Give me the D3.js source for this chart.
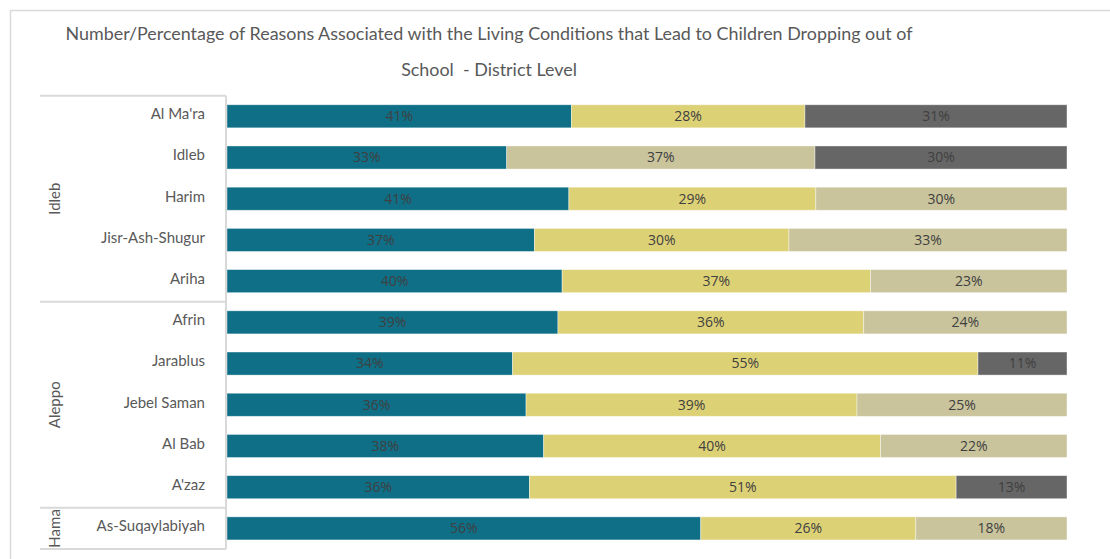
<!DOCTYPE html>
<html>
<head>
<meta charset="utf-8">
<script src="https://cdn.jsdelivr.net/npm/d3@7"></script>
<style>
  html, body { margin: 0; padding: 0; background: #fff; }
  svg { display: block; }
</style>
</head>
<body>
<svg id="chart" width="1110" height="559"></svg>
<script>
// ---- data ----
const districts = ["Al Ma'ra", "Idleb", "Harim", "Jisr-Ash-Shugur", "Ariha", "Afrin", "Jarablus", "Jebel Saman", "Al Bab", "A'zaz", "As-Suqaylabiyah"];
const governorates = ["Idleb", "Aleppo", "Hama"];
const governorateOf = ["Idleb", "Idleb", "Idleb", "Idleb", "Idleb", "Aleppo", "Aleppo", "Aleppo", "Aleppo", "Aleppo", "Hama"];
const seriesKeys = ["reason1", "reason2", "reason3", "reason4"];
const reason1 = [41.0, 33.3, 40.7, 36.6, 39.9, 39.4, 34.0, 35.6, 37.7, 36.0, 56.4];
const reason2 = [27.8, 0, 29.4, 30.3, 36.7, 36.4, 55.4, 39.4, 40.1, 50.8, 25.6];
const reason3 = [0, 36.7, 29.9, 33.1, 23.4, 24.2, 0, 25.0, 22.2, 0, 18.0];
const reason4 = [31.2, 30.0, 0, 0, 0, 0, 10.6, 0, 0, 13.2, 0];
const titleLines = ["Number/Percentage of Reasons Associated with the Living Conditions that Lead to Children Dropping out of", "School  - District Level"];

const table = districts.map((d, i) => ({
  district: d,
  reason1: reason1[i], reason2: reason2[i], reason3: reason3[i], reason4: reason4[i]
}));

const svg = d3.select("#chart");
const fontCat = "Lato, 'Open Sans', sans-serif";

// outer frame (clipped at right/bottom)
svg.append("rect")
  .attr("x", 10.5).attr("y", 10.5).attr("width", 1300).attr("height", 700)
  .attr("fill", "none").attr("stroke", "#d9d9d9").attr("stroke-width", 1.5);

// title
svg.append("g").selectAll("text").data(titleLines).join("text")
  .attr("x", 489).attr("y", (d, i) => 40 + i * 36)
  .attr("text-anchor", "middle")
  .attr("font-family", fontCat)
  .attr("font-size", 17.9)
  .attr("fill", "#595959")
  .style("white-space", "pre")
  .text(d => d);

const x = d3.scaleLinear().domain([0, 100]).range([227, 1067]);
const y = d3.scaleBand().domain(districts).range([95.7, 549]).paddingInner(0.44).paddingOuter(0.22);
const color = d3.scaleOrdinal().domain(seriesKeys).range(["#0e6f87", "#ddd176", "#c9c49c", "#666666"]);

const stacked = d3.stack().keys(seriesKeys)(table);

const layers = svg.append("g").selectAll("g").data(stacked).join("g")
  .attr("fill", d => color(d.key));

layers.selectAll("rect").data(d => d.filter(s => s[1] - s[0] > 0)).join("rect")
  .attr("x", d => x(d[0]))
  .attr("y", d => y(d.data.district))
  .attr("width", d => x(d[1]) - x(d[0]))
  .attr("height", y.bandwidth())
  .attr("stroke", "#ffffff").attr("stroke-opacity", 0.5).attr("stroke-width", 0.8);

// value labels
const labels = svg.append("g");
stacked.forEach(layer => {
  labels.selectAll(null).data(layer.filter(s => s[1] - s[0] > 0)).join("text")
    .attr("x", d => (x(d[0]) + x(d[1])) / 2)
    .attr("y", d => y(d.data.district) + y.bandwidth() / 2)
    .attr("dy", "0.35em")
    .attr("text-anchor", "middle")
    .attr("font-family", "'Open Sans', sans-serif")
    .attr("font-size", 14)
    .attr("fill", "#404040")
    .text(d => Math.round(d[1] - d[0]) + "%");
});

// category axis
const axis = svg.append("g").attr("transform", "translate(205,-2)")
  .call(d3.axisLeft(y).tickSize(0).tickPadding(0));
axis.select(".domain").remove();
axis.selectAll("text")
  .attr("font-family", fontCat).attr("font-size", 15).attr("fill", "#595959");

// group boxes
const step = y.step();
const groupLines = svg.append("g").attr("stroke", "#d9d9d9").attr("stroke-width", 2).attr("fill", "none");
const bounds = governorates.map(g => {
  const idx = governorateOf.map((v, i) => v === g ? i : -1).filter(i => i >= 0);
  const top = y.range()[0] + idx[0] * step;
  const bottom = y.range()[0] + (idx[idx.length - 1] + 1) * step;
  return { g, top, bottom };
});
const edges = [bounds[0].top].concat(bounds.map(b => b.bottom));
groupLines.selectAll("line.h").data(edges).join("line")
  .attr("x1", 40).attr("x2", 226).attr("y1", d => d).attr("y2", d => d);
groupLines.append("line").attr("x1", 226).attr("x2", 226).attr("y1", edges[0]).attr("y2", edges[edges.length - 1]);

svg.append("g").selectAll("text").data(bounds).join("text")
  .attr("transform", d => `translate(60,${(d.top + d.bottom) / 2}) rotate(-90)`)
  .attr("text-anchor", "middle")
  .attr("font-family", fontCat).attr("font-size", 15).attr("fill", "#595959")
  .text(d => d.g);
</script>
</body>
</html>
